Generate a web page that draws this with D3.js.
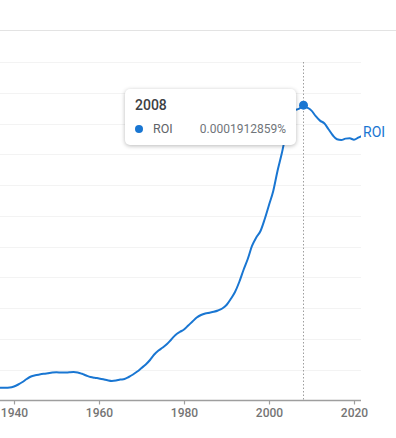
<!DOCTYPE html>
<html>
<head>
<meta charset="utf-8">
<script src="https://cdn.jsdelivr.net/npm/d3@7"></script>
<style>
  html, body { margin: 0; padding: 0; background: #fff; }
  body { width: 396px; height: 438px; overflow: hidden; font-family: Roboto, "Noto Sans", sans-serif; }
  #chart { position: relative; width: 396px; height: 438px; }
  #tip {
    position: absolute;
    left: 125px; top: 89px;
    width: 171px; height: 56px;
    box-sizing: border-box;
    background: #fff;
    border-radius: 5px;
    box-shadow: 0 1px 4px rgba(0,0,0,0.28);
    font-family: Roboto, sans-serif;
  }
  #tip .yr { position: absolute; left: 10px; top: 8px; font-size: 14px; font-weight: 500; color: #3c4043; }
  #tip .dot { position: absolute; left: 10px; top: 36px; width: 8px; height: 8px; border-radius: 50%; background: #1976d2; }
  #tip .nm { position: absolute; left: 28px; top: 32px; font-size: 12.5px; color: #5f6368; }
  #tip .val { position: absolute; right: 10px; top: 33px; font-size: 12px; color: #70757a; }
</style>
</head>
<body>
<div id="chart"></div>
<script>
// years and frequency (%) of "ROI"
const years = d3.range(1936, 2023);
const roi = [
  8.25e-6, 8.25e-6, 8.25e-6, 8.38e-6, 9.10e-6, 1.040e-5, 1.202e-5, 1.397e-5, 1.560e-5, 1.638e-5,
  1.690e-5, 1.735e-5, 1.774e-5, 1.813e-5, 1.833e-5, 1.820e-5, 1.813e-5, 1.833e-5, 1.846e-5, 1.820e-5,
  1.735e-5, 1.625e-5, 1.527e-5, 1.475e-5, 1.436e-5, 1.384e-5, 1.313e-5, 1.267e-5, 1.293e-5, 1.358e-5,
  1.397e-5, 1.527e-5, 1.690e-5, 1.885e-5, 2.112e-5, 2.340e-5, 2.632e-5, 2.990e-5, 3.250e-5, 3.445e-5,
  3.672e-5, 3.965e-5, 4.257e-5, 4.452e-5, 4.615e-5, 4.875e-5, 5.135e-5, 5.395e-5, 5.557e-5, 5.655e-5,
  5.707e-5, 5.765e-5, 5.850e-5, 5.980e-5, 6.207e-5, 6.597e-5, 7.052e-5, 7.702e-5, 8.482e-5, 9.197e-5,
  1.0042e-4, 1.0595e-4, 1.1017e-4, 1.1797e-4, 1.2707e-4, 1.3617e-4, 1.4917e-4, 1.6050e-4, 1.7350e-4, 1.8450e-4,
  1.8850e-4, 1.8950e-4, 1.912859e-4, 1.9030e-4, 1.8840e-4, 1.8480e-4, 1.8190e-4, 1.8020e-4, 1.7630e-4, 1.7240e-4,
  1.6980e-4, 1.6930e-4, 1.7020e-4, 1.7040e-4, 1.6950e-4, 1.7080e-4, 1.7210e-4
];
const yTicks = d3.range(1, 12).map(i => i * 2e-5);
const xTicks = [1940, 1960, 1980, 2000, 2020];
const hoverYear = 2008;
const seriesName = "ROI";

const W = 396, H = 438;
const blue = "#1976d2";

const x = d3.scaleLinear().domain([1940, 2020]).range([14, 354]);
const y = d3.scaleLinear().domain([0, 2.2e-4]).range([400.5, 62]);
const plotRight = 361;

const svg = d3.select("#chart").append("svg")
  .attr("width", W).attr("height", H)
  .style("position", "absolute").style("left", 0).style("top", 0);

// header divider
svg.append("line")
  .attr("x1", 0).attr("x2", W).attr("y1", 30.5).attr("y2", 30.5)
  .attr("stroke", "#e3e3e3").attr("stroke-width", 1);

// horizontal grid
svg.append("g").selectAll("line").data(yTicks).join("line")
  .attr("x1", 0).attr("x2", plotRight)
  .attr("y1", d => Math.round(y(d)) + 0.5).attr("y2", d => Math.round(y(d)) + 0.5)
  .attr("stroke", "#f3f3f3");

// x axis
const axis = svg.append("g")
  .attr("transform", "translate(0," + 400.5 + ")")
  .call(d3.axisBottom(x).tickValues(xTicks).tickFormat(d3.format("d")).tickSize(4).tickSizeOuter(0));
axis.select(".domain").remove();
axis.append("line").attr("x1", 0).attr("x2", plotRight)
  .attr("stroke", "#9e9e9e").attr("stroke-width", 1.5);
axis.selectAll(".tick line").attr("stroke", "#9e9e9e").attr("stroke-width", 1.2);
axis.selectAll(".tick text")
  .attr("y", 8)
  .attr("fill", "#757575")
  .style("font-family", "Roboto, sans-serif")
  .style("font-size", "12px")
  .style("font-weight", 500);

// hover guide
svg.append("line")
  .attr("x1", x(hoverYear) + 0.5).attr("x2", x(hoverYear) + 0.5)
  .attr("y1", y(2.2e-4)).attr("y2", 400)
  .attr("stroke", "#9e9e9e").attr("stroke-dasharray", "1.5,2");

// the series line
svg.append("clipPath").attr("id", "clip")
  .append("rect").attr("x", 0).attr("y", 0).attr("width", plotRight).attr("height", H);

const data = years.map((yr, i) => ({ year: yr, v: roi[i] }));
svg.append("path")
  .datum(data)
  .attr("clip-path", "url(#clip)")
  .attr("fill", "none")
  .attr("stroke", blue)
  .attr("stroke-width", 2)
  .attr("d", d3.line().x(d => x(d.year)).y(d => y(d.v)).curve(d3.curveMonotoneX));

const last = data[data.length - 1];
svg.append("text")
  .attr("x", plotRight + 2).attr("y", y(last.v) + 1)
  .attr("fill", blue)
  .style("font-family", "Roboto, sans-serif")
  .style("font-size", "14px")
  .text(seriesName);

const hv = data.find(d => d.year === hoverYear);
svg.append("circle")
  .attr("cx", x(hv.year) + 0.5).attr("cy", y(hv.v) - 1).attr("r", 4.5)
  .attr("fill", blue);

// tooltip
const tip = d3.select("#chart").append("div").attr("id", "tip");
tip.append("div").attr("class", "yr").text(hoverYear);
tip.append("div").attr("class", "dot");
tip.append("div").attr("class", "nm").text(seriesName);
tip.append("div").attr("class", "val").text(hv.v.toFixed(10) + "%");
</script>
</body>
</html>
